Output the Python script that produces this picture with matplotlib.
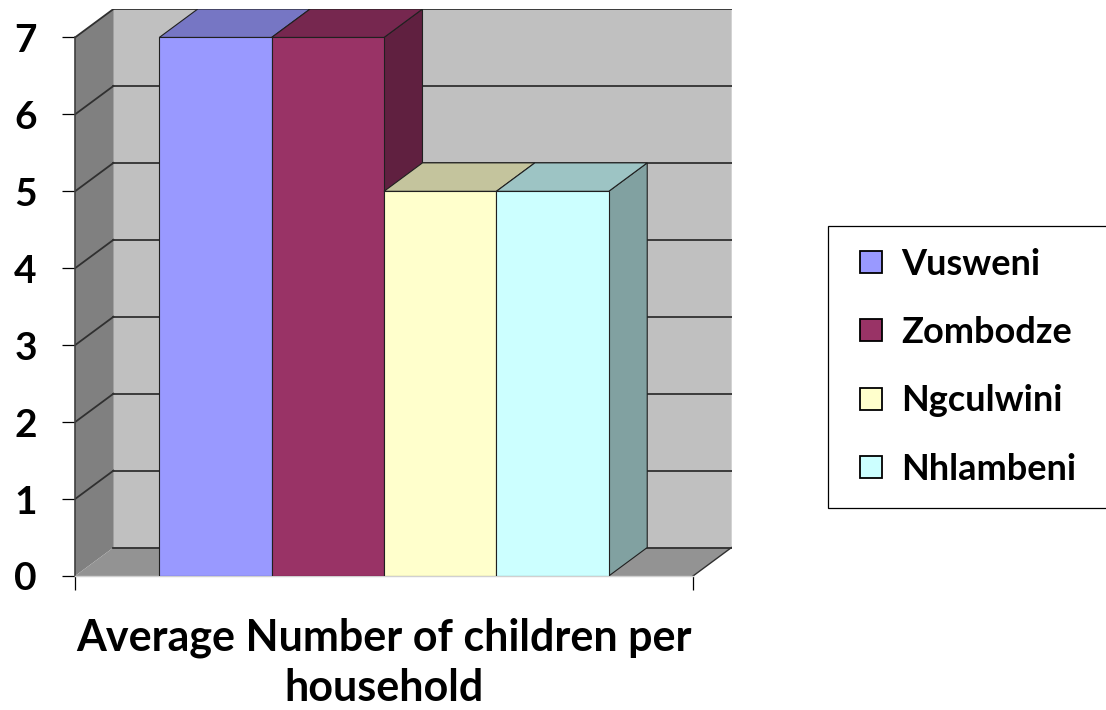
import matplotlib
matplotlib.use("Agg")
import matplotlib.pyplot as plt
from matplotlib.patches import Polygon, Rectangle, Patch
from matplotlib.legend_handler import HandlerPatch
from matplotlib.colors import to_rgb

plt.rcParams['font.family'] = ['Lato', 'DejaVu Sans']
plt.rcParams['font.weight'] = 'bold'

regions = ['Vusweni', 'Zombodze', 'Ngculwini', 'Nhlambeni']
avg_children = [7, 7, 5, 5]
colors = ['#9999ff', '#993366', '#ffffcc', '#ccffff']
y_ticks = [0, 1, 2, 3, 4, 5, 6, 7]
x_title = 'Average Number of children per\nhousehold'

# fake 3d: depth offset of the back wall in data units
DX = 0.3425
DY = 0.37
GAP = 0.75          # space left and right of the bar group
WIDTH = GAP * 2 + len(regions)
YMAX = y_ticks[-1]


def shade(c, f):
    r, g, b = to_rgb(c)
    return (r * f, g * f, b * f)


def square_key(legend, orig_handle, xdescent, ydescent, width, height, fontsize):
    # small square pushed to the right end of the handle box
    side = 15.8
    return Rectangle((-xdescent + width - side, -ydescent + (height - side) / 2), side, side)


W, H = 1106, 710
fig = plt.figure(figsize=(W / 100, H / 100), dpi=100)
ax = fig.add_axes([75 / W, (H - 576) / H, (731.5 - 75) / W, (576 - 9) / H])
ax.set_xlim(0, WIDTH + DX)
ax.set_ylim(0, YMAX + DY)
ax.patch.set_visible(False)

# walls and floor
ax.add_patch(Polygon([(DX, DY), (WIDTH + DX, DY), (WIDTH + DX, YMAX + DY), (DX, YMAX + DY)],
                     closed=True, fc='#c0c0c0', ec='none', zorder=1))
ax.add_patch(Polygon([(0, 0), (DX, DY), (DX, YMAX + DY), (0, YMAX)],
                     closed=True, fc='#808080', ec='none', zorder=1))
ax.add_patch(Polygon([(0, 0), (WIDTH, 0), (WIDTH + DX, DY), (DX, DY)],
                     closed=True, fc='#939393', ec='none', zorder=1))
ax.plot([WIDTH + DX, WIDTH + DX], [DY, YMAX + DY], color='#d8d8d8', lw=1.2, zorder=1.5)
ax.plot([WIDTH, WIDTH + DX], [0, DY], color='#303030', lw=1.0, zorder=1.5)

# gridlines on back wall and left wall
for v in y_ticks:
    ax.plot([DX, WIDTH + DX], [v + DY, v + DY], color='#303030', lw=1.3, zorder=2)
    if v > 0:
        ax.plot([0, DX], [v, v + DY], color='#303030', lw=1.3, zorder=2)

# bars, left to right so later faces cover earlier sides
for i, (val, c) in enumerate(zip(avg_children, colors)):
    x0 = GAP + i
    x1 = x0 + 1
    z = 3 + i
    ax.add_patch(Polygon([(x1, 0), (x1 + DX, DY), (x1 + DX, val + DY), (x1, val)],
                         closed=True, fc=shade(c, 0.63), ec='#202020', lw=0.8, zorder=z))
    ax.add_patch(Polygon([(x0, val), (x1, val), (x1 + DX, val + DY), (x0 + DX, val + DY)],
                         closed=True, fc=shade(c, 0.77), ec='#202020', lw=0.8, zorder=z))
    ax.add_patch(Rectangle((x0, 0), 1, val, fc=c, ec='#202020', lw=0.8, zorder=z))

# axes lines and ticks
for s in ['top', 'right']:
    ax.spines[s].set_visible(False)
ax.spines['left'].set_bounds(0, YMAX)
ax.spines['left'].set_color('#404040')
ax.spines['left'].set_linewidth(1.2)
ax.spines['left'].set_zorder(2.5)
ax.spines['bottom'].set_bounds(0, WIDTH)
ax.spines['bottom'].set_color('#d0d0d0')
ax.spines['bottom'].set_linewidth(1.0)
ax.set_yticks(y_ticks)
ax.set_yticklabels([str(t) for t in y_ticks])
ax.set_xticks([0, WIDTH])
ax.set_xticklabels([])
ax.tick_params(axis='y', length=9.5, width=0.9, color='black', pad=18,
               labelsize=28)
ax.tick_params(axis='x', length=10, width=0.9, color='black')
for lab in ax.get_yticklabels():
    lab.set_fontweight('bold')

ax.annotate(x_title, xy=(WIDTH / 2, 0), xycoords='data', xytext=(0, -42),
            textcoords='offset pixels', ha='center', va='top',
            fontsize=31, fontweight='bold', linespacing=1.3)

handles = [Patch(fc=c, ec='black', lw=1.3) for c in colors]
fig.legend(handles, regions, loc='upper left',
           bbox_to_anchor=(828 / W, (H - 226) / H, (1120 - 828) / W, 0.0),
           mode='expand', borderaxespad=0, frameon=True,
           fancybox=False, edgecolor='black', framealpha=1,
           handler_map={Patch: HandlerPatch(patch_func=square_key)},
           handlelength=0.9, handleheight=0.7, handletextpad=0.53,
           labelspacing=0.98, borderpad=0.6, prop={'weight': 'bold', 'size': 26})
fig.legends[0].get_frame().set_linewidth(0.9)

fig.savefig('out.png', dpi=100)
